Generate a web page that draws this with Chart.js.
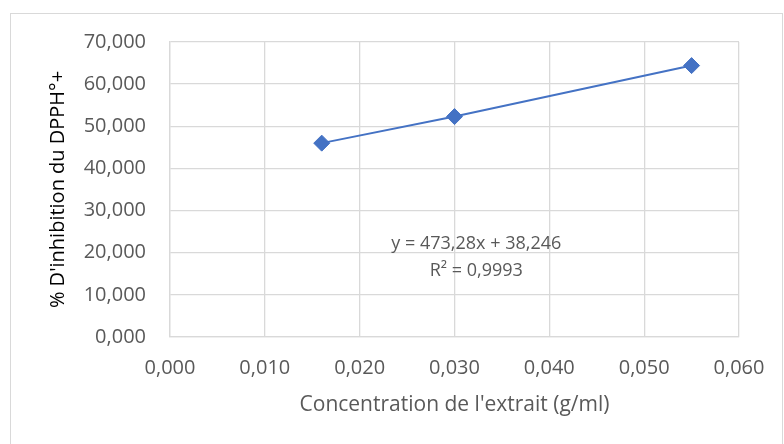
<!DOCTYPE html>
<html><head><meta charset="utf-8">
<script src="https://cdn.jsdelivr.net/npm/chart.js@4.4.0/dist/chart.umd.min.js"></script>
<style>html,body{margin:0;padding:0;background:#fff}#wrap{width:784px;height:444px}</style>
</head><body><div id="wrap"><canvas id="c" width="784" height="444"></canvas></div>
<script>
const concentrations = [0.016, 0.030, 0.055];
const inhibition = [46.0, 52.3, 64.4];
const equationLines = ["y = 473,28x + 38,246", "R² = 0,9993"];
const equationAnchor = [0.0323, 22.1];
const xTitle = "Concentration de l'extrait (g/ml)";
const yTitle = "% D'inhibition du DPPH°+";

const FONT = "'Open Sans', 'Noto Sans', sans-serif";
const fmt = v => v.toFixed(3).replace('.', ',');

const frame = {
  id: 'frame',
  beforeDraw(chart) {
    const ctx = chart.ctx;
    ctx.save();
    ctx.fillStyle = '#fff';
    ctx.fillRect(0, 0, chart.width, chart.height);
    ctx.strokeStyle = '#d9d9d9';
    ctx.lineWidth = 1;
    ctx.strokeRect(10.5, 13.5, 772, 460);
    ctx.restore();
  },
  afterDatasetsDraw(chart) {
    const ctx = chart.ctx, xs = chart.scales.x, ys = chart.scales.y;
    const px = xs.getPixelForValue(equationAnchor[0]);
    const py = ys.getPixelForValue(equationAnchor[1]);
    ctx.save();
    ctx.fillStyle = '#595959';
    ctx.font = "18px " + FONT;
    ctx.textAlign = 'center';
    ctx.textBaseline = 'middle';
    equationLines.forEach((t, i) => ctx.fillText(t, px, py + i * 27));
    ctx.restore();
  }
};

new Chart(document.getElementById('c'), {
  type: 'scatter',
  data: {
    datasets: [{
      data: concentrations.map((x, i) => ({x, y: inhibition[i]})),
      showLine: true,
      borderColor: '#4472C4',
      backgroundColor: '#4472C4',
      borderWidth: 2,
      pointStyle: 'rectRot',
      pointRadius: 8,
      pointHoverRadius: 8,
      pointBorderWidth: 1
    }]
  },
  options: {
    responsive: false,
    animation: false,
    events: [],
    layout: { padding: { left: 0, right: 45, top: 42, bottom: 0 } },
    plugins: { legend: { display: false }, tooltip: { enabled: false } },
    scales: {
      x: {
        type: 'linear', min: 0, max: 0.06,
        afterFit(s) { s.height = 107; },
        ticks: { stepSize: 0.01, padding: 19, color: '#595959', font: { family: FONT, size: 20 }, callback: v => fmt(v), maxRotation: 0 },
        grid: { color: '#d9d9d9', drawTicks: false, lineWidth: 1.3 },
        border: { color: '#d9d9d9', width: 1.3 },
        title: { display: true, text: xTitle, color: '#595959', font: { family: FONT, size: 21 }, padding: { top: 0, bottom: 26 } }
      },
      y: {
        type: 'linear', min: 0, max: 70,
        afterFit(s) { s.width = 170; },
        ticks: { stepSize: 10, padding: 24, color: '#595959', font: { family: FONT, size: 20 }, callback: v => fmt(v) },
        grid: { color: '#d9d9d9', drawTicks: false, lineWidth: 1.3 },
        border: { color: '#d9d9d9', width: 1.3 },
        title: { display: true, text: yTitle, color: '#000000', font: { family: FONT, size: 20 }, padding: { top: 46, bottom: 0 } }
      }
    }
  },
  plugins: [frame]
});
</script></body></html>
